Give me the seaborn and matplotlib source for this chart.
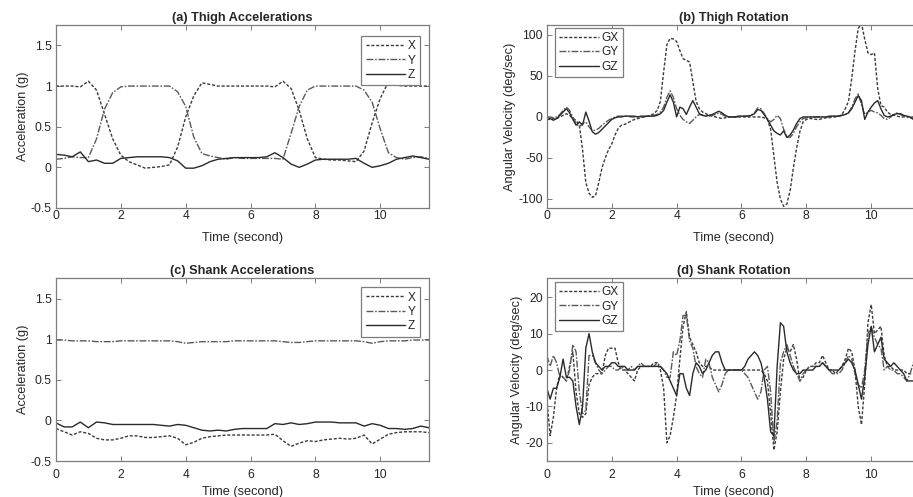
import numpy as np
import matplotlib
matplotlib.use("Agg")
import matplotlib.pyplot as plt
from matplotlib.ticker import FuncFormatter
import seaborn as sns

# --- data ---
t_acc = np.arange(0, 11.51, 0.25)           # 0 .. 11.5 s, acceleration panels
t_gyr = np.round(np.arange(0, 11.51, 0.1), 1)  # 0 .. 11.5 s, rotation panels

thigh_x = [1.00, 1.00, 1.00, 0.99, 1.06, 0.95, 0.65, 0.35, 0.15, 0.07, 0.03, -0.01,
           0.00, 0.01, 0.03, 0.25, 0.62, 0.88, 1.04, 1.02, 1.00, 1.00, 1.00, 1.00,
           1.00, 1.00, 1.00, 0.99, 1.06, 0.97, 0.70, 0.35, 0.12, 0.10, 0.09, 0.09,
           0.08, 0.07, 0.20, 0.55, 0.85, 1.05, 1.01, 1.00, 1.00, 1.00, 1.00]
thigh_y = [0.10, 0.11, 0.13, 0.12, 0.12, 0.35, 0.72, 0.92, 0.99, 1.00, 1.00, 1.00,
           1.00, 1.00, 1.00, 0.93, 0.75, 0.37, 0.17, 0.14, 0.12, 0.10, 0.12, 0.11,
           0.11, 0.11, 0.11, 0.11, 0.10, 0.42, 0.75, 0.95, 1.00, 1.00, 1.00, 1.00,
           1.00, 1.00, 0.95, 0.80, 0.47, 0.18, 0.12, 0.10, 0.12, 0.13, 0.11]
thigh_z = [0.16, 0.15, 0.13, 0.19, 0.07, 0.09, 0.05, 0.05, 0.11, 0.12, 0.13, 0.13,
           0.13, 0.13, 0.12, 0.08, -0.01, -0.01, 0.02, 0.07, 0.10, 0.11, 0.12, 0.12,
           0.12, 0.12, 0.13, 0.18, 0.12, 0.04, 0.00, 0.04, 0.09, 0.10, 0.10, 0.10,
           0.10, 0.11, 0.05, 0.00, 0.02, 0.05, 0.10, 0.12, 0.14, 0.12, 0.10]

shank_x = [-0.10, -0.14, -0.18, -0.14, -0.16, -0.22, -0.24, -0.24, -0.22, -0.19, -0.19, -0.21,
           -0.21, -0.20, -0.19, -0.22, -0.30, -0.27, -0.22, -0.20, -0.19, -0.18, -0.18, -0.18,
           -0.18, -0.18, -0.18, -0.17, -0.25, -0.32, -0.28, -0.25, -0.26, -0.24, -0.23, -0.22,
           -0.23, -0.22, -0.18, -0.29, -0.23, -0.17, -0.15, -0.14, -0.14, -0.14, -0.15]
shank_y = [0.99, 0.99, 0.98, 0.98, 0.98, 0.97, 0.97, 0.97, 0.98, 0.98, 0.98, 0.98,
           0.98, 0.98, 0.98, 0.97, 0.95, 0.96, 0.97, 0.97, 0.97, 0.97, 0.98, 0.98,
           0.98, 0.98, 0.98, 0.98, 0.97, 0.96, 0.96, 0.97, 0.98, 0.98, 0.98, 0.98,
           0.98, 0.98, 0.97, 0.95, 0.97, 0.98, 0.98, 0.98, 0.99, 0.99, 0.99]
shank_z = [-0.03, -0.08, -0.08, -0.02, -0.09, -0.02, -0.03, -0.05, -0.05, -0.05, -0.05, -0.05,
           -0.05, -0.06, -0.07, -0.05, -0.06, -0.09, -0.12, -0.13, -0.12, -0.13, -0.11, -0.10,
           -0.10, -0.10, -0.10, -0.04, -0.05, -0.03, -0.05, -0.04, -0.02, -0.02, -0.02, -0.03,
           -0.03, -0.03, -0.07, -0.04, -0.06, -0.10, -0.10, -0.11, -0.10, -0.07, -0.09]

thigh_gx = [-3, -3, -2, -2, 0, 2, 4, 2, -2, -4,
            -10, -40, -80, -93, -98, -96, -80, -62, -50, -40,
            -33, -22, -14, -10, -9, -7, -5, -3, -2, -1,
            0, 1, 2, 4, 8, 19, 55, 88, 96, 95,
            92, 81, 71, 69, 67, 43, 19, 10, 6, 4,
            2, 1, 0, -1, -2, -1, 0, 0, 0, 0,
            0, 0, 0, 0, 0, 0, 0, -1, -3, -15,
            -48, -80, -100, -109, -106, -90, -62, -38, -18, -6,
            -3, -2, -2, -3, -3, -2, -1, -1, 0, 0,
            1, 3, 10, 19, 47, 80, 108, 114, 95, 78,
            76, 78, 35, 14, 12, 6, 3, 2, 1, 0,
            0, 0, 0, 0, 0, 0]
thigh_gy = [0, 0, -1, 0, 3, 8, 12, 8, 0, -8,
            -12, -8, -6, -12, -17, -16, -14, -10, -7, -4,
            -2, 0, 1, 1, 1, 1, 0, 0, 0, 0,
            0, 1, 1, 2, 3, 6, 12, 24, 32, 24,
            10, 2, -3, -6, -8, -4, 0, 3, 2, 1,
            1, 2, 3, 5, 3, 1, 0, 0, 0, 0,
            1, 1, 1, 2, 5, 11, 10, 4, -2, -6,
            -3, 2, -2, -15, -24, -25, -20, -12, -6, -2,
            -1, 0, 0, 0, 0, 0, 0, 0, 1, 1,
            1, 2, 3, 5, 12, 22, 28, 15, 3, 6,
            8, 6, 5, 2, -2, -3, 0, 3, 5, 3,
            1, 0, -1, -2, 1, 1]
thigh_gz = [-3, -2, -4, -2, 2, 6, 10, 5, -3, -10,
            -6, -10, 6, -5, -18, -21, -19, -15, -11, -7,
            -3, -1, 0, 0, 1, 1, 1, 1, 0, 1,
            1, 1, 1, 1, 2, 4, 8, 18, 27, 18,
            0, 12, 10, 3, 12, 20, 12, 4, 2, 1,
            2, 3, 5, 7, 5, 2, 0, 0, 0, 1,
            1, 1, 1, 2, 4, 9, 8, 3, -3, -10,
            -17, -20, -22, -17, -25, -22, -16, -8, -2, 0,
            0, 0, 0, 0, 0, 0, 0, 1, 1, 1,
            1, 2, 3, 5, 10, 18, 26, 20, -3, 6,
            12, 17, 20, 10, 2, 0, 1, 3, 4, 4,
            2, 1, 0, -3, -2, -1]

shank_gx = [-8, -18, -13, -5, -1, -2, -3, 1, 5, -6,
            -12, -13, -12, -4, -2, -1, -1, -1, 4, 6,
            6, 6, 2, 0, 0, -1, -2, -3, 0, 1,
            1, 1, 1, 2, 2, 0, -5, -20, -18, -13,
            -7, 3, 12, 16, 9, 7, 5, 2, 1, 1,
            1, 0, 0, 0, 0, 0, 0, 0, 0, 0,
            0, 0, 0, 0, 0, 0, 0, -1, -3, -12,
            -22, -17, -6, 3, 6, 5, 7, 3, -3, -2,
            0, 1, 1, 2, 2, 4, 2, 0, 0, -1,
            0, 1, 3, 6, 5, 0, -10, -15, -4, 13,
            18, 10, 11, 12, 4, 1, 1, 0, 0, 0,
            0, -1, -1, -1, -1, -1]
shank_gy = [4, 1, 4, 2, -2, -2, -3, 0, 7, 5,
            -6, -12, -11, 4, 4, 2, 0, -1, 0, 1,
            1, 0, 0, 1, 0, 0, 1, 0, 1, 2,
            1, 1, 1, 1, 2, 1, 0, -2, -2, 5,
            4, 8, 15, 15, 8, 6, 1, -1, -2, 3,
            2, -2, -4, -6, -4, -1, 0, 0, 0, 0,
            0, -1, -2, -4, -6, -8, -6, 0, 1, -6,
            -20, -14, 2, 5, 7, 4, 1, -1, -3, -1,
            0, 1, 1, 1, 1, 2, 1, 0, -1, -1,
            -1, 0, 2, 4, 3, -1, -4, -5, 0, 10,
            12, 9, 7, 6, 0, 1, 0, 0, -1, -1,
            -2, -3, -1, 2, 4, 3]
shank_gz = [-5, -8, -5, -5, -2, 3, -2, -2, -3, -10,
            -15, -10, 6, 10, 5, 2, 1, 0, 1, 1,
            2, 2, 1, 1, 1, 0, 0, 0, 1, 1,
            1, 1, 1, 1, 1, 1, 0, -1, -3, -5,
            -7, -1, -1, -5, -7, -1, 2, 1, -1, 0,
            2, 4, 5, 5, 2, 0, 0, 0, 0, 0,
            0, 1, 3, 4, 5, 4, 2, -2, -8, -17,
            -18, 1, 13, 12, 5, 2, 0, -1, -1, 0,
            0, 0, 0, 1, 1, 2, 1, 0, 0, 0,
            0, 1, 2, 3, 2, 0, -4, -8, -2, 7,
            12, 5, 7, 9, 3, 2, 1, 2, 1, 0,
            -1, -3, -3, -3, -3, -3]

acc_labels = ["X", "Y", "Z"]
gyr_labels = ["GX", "GY", "GZ"]

# --- styling (MATLAB-like look) ---
sns.set_theme(style="ticks")
plt.rcParams["font.family"] = ["Liberation Sans", "DejaVu Sans"]
plt.rcParams["axes.unicode_minus"] = False

GRAY = "#7d7d7d"
TXT = "#262626"
LINE_STYLES = [
    dict(color="#3a3a3a", linestyle=(0, (2.2, 1.3)), linewidth=1.0),        # X  dotted
    dict(color="#5a5a5a", linestyle=(0, (5, 1.2, 1.2, 1.2)), linewidth=1.0),  # Y  dash-dot
    dict(color="#2a2a2a", linestyle="-", linewidth=1.0),                     # Z  solid
]


def draw_panel(ax, t, series, labels, title, ylabel, ylim, yticks,
               legend_loc, legend_anchor, xpad, xlabelpad):
    for vals, lab, st in zip(series, labels, LINE_STYLES):
        sns.lineplot(x=t, y=vals, ax=ax, label=lab, **st)

    ax.set_xlim(0, 11.5)
    ax.set_ylim(*ylim)
    ax.set_xticks([0, 2, 4, 6, 8, 10])
    ax.set_yticks(yticks)
    fmt = FuncFormatter(lambda v, p: f"{v:g}")
    ax.xaxis.set_major_formatter(fmt)
    ax.yaxis.set_major_formatter(fmt)

    ax.tick_params(direction="in", top=True, right=True, length=3.5, width=0.7,
                   color=GRAY, labelcolor=TXT, labelsize=8.7)
    ax.tick_params(axis="x", pad=xpad)
    ax.tick_params(axis="y", pad=3)
    for sp in ax.spines.values():
        sp.set_color(GRAY)
        sp.set_linewidth(0.9)

    ax.set_title(title, fontsize=9.2, fontweight="bold", color=TXT, pad=3)
    ax.set_xlabel("Time (second)", fontsize=9.2, color=TXT, labelpad=xlabelpad)
    ax.set_ylabel(ylabel, fontsize=9.2, color=TXT, labelpad=1.5)

    leg = ax.legend(loc=legend_loc, bbox_to_anchor=legend_anchor, borderaxespad=0,
                    fontsize=8.6, frameon=True, fancybox=False, framealpha=1,
                    edgecolor=GRAY, handlelength=3.3, handletextpad=0.25,
                    labelspacing=0.2, borderpad=0.35)
    leg.get_frame().set_linewidth(0.9)
    for txt in leg.get_texts():
        txt.set_color(TXT)


fig = plt.figure(figsize=(9.13, 4.97), dpi=100)
ax_a = fig.add_axes([0.0613, 0.5815, 0.4085, 0.368])
ax_b = fig.add_axes([0.599, 0.5815, 0.4085, 0.368])
ax_c = fig.add_axes([0.0613, 0.0724, 0.4085, 0.3676])
ax_d = fig.add_axes([0.599, 0.0724, 0.4085, 0.3676])

draw_panel(ax_a, t_acc, [thigh_x, thigh_y, thigh_z], acc_labels,
           "(a) Thigh Accelerations", "Acceleration (g)", (-0.5, 1.75),
           [-0.5, 0, 0.5, 1, 1.5], "upper right", (0.976, 0.94), 1.5, 7.5)
draw_panel(ax_b, t_gyr, [thigh_gx, thigh_gy, thigh_gz], gyr_labels,
           "(b) Thigh Rotation", "Angular Velocity (deg/sec)", (-111, 112),
           [-100, -50, 0, 50, 100], "upper left", (0.022, 0.985), 1.5, 7.5)
draw_panel(ax_c, t_acc, [shank_x, shank_y, shank_z], acc_labels,
           "(c) Shank Accelerations", "Acceleration (g)", (-0.5, 1.75),
           [-0.5, 0, 0.5, 1, 1.5], "upper right", (0.976, 0.95), 6, 3)
draw_panel(ax_d, t_gyr, [shank_gx, shank_gy, shank_gz], gyr_labels,
           "(d) Shank Rotation", "Angular Velocity (deg/sec)", (-25, 25.2),
           [-20, -10, 0, 10, 20], "upper left", (0.022, 0.98), 6, 3)

fig.savefig("out.png", dpi=100)
